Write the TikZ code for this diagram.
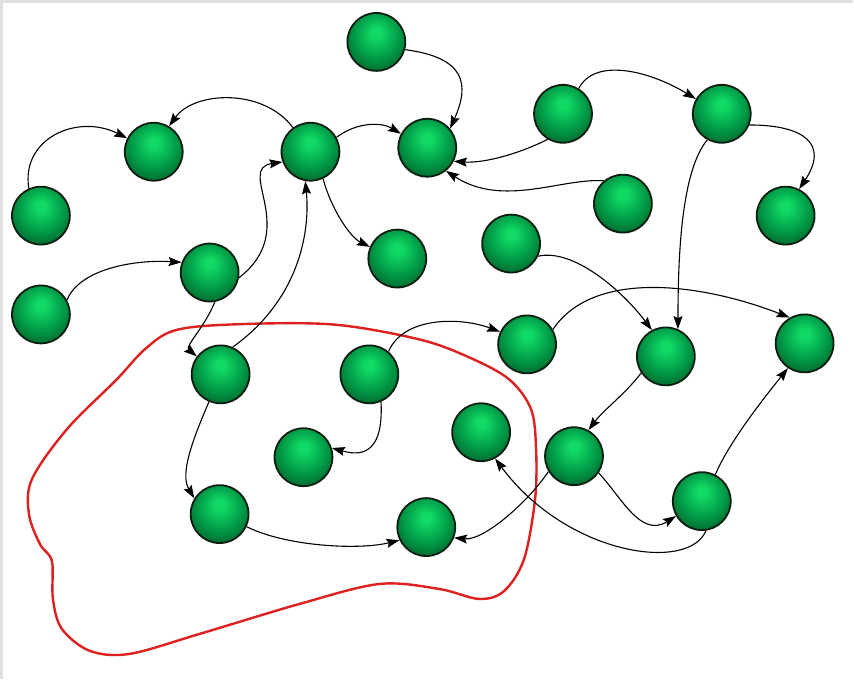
\documentclass[tikz,border=0pt]{standalone}
\usetikzlibrary{arrows.meta}
\definecolor{ballhi}{RGB}{16,218,100}
\definecolor{ballmid}{RGB}{0,152,70}
\definecolor{balldark}{RGB}{0,84,38}
\definecolor{ballrim}{RGB}{10,30,16}
\definecolor{loopred}{RGB}{222,32,32}
\pgfdeclareradialshading{greenball}{\pgfpoint{0bp}{9bp}}{color(0bp)=(ballhi); color(4bp)=(ballhi); color(20bp)=(ballmid); color(34bp)=(balldark); color(50bp)=(balldark)}
\tikzstyle{gball} = [circle, minimum size=58pt, inner sep=0pt, shading=greenball, draw=ballrim, line width=1.8pt]
\tikzstyle{link}  = [-{Stealth[length=13pt,width=9pt,inset=2pt]}, line width=1.1pt, black]
\tikzstyle{hull}  = [draw=loopred, line width=2.4pt]

\begin{document}
\begin{tikzpicture}[x=1pt,y=-1pt]
    \fill[white] (0,0) rectangle (854,680);
    \draw[black!12, line width=3pt] (1.5,680) -- (1.5,1.5) -- (854,1.5);
    \useasboundingbox (0,0) rectangle (854,680);
    \draw[hull] plot[smooth cycle, tension=0.55] coordinates {
      (175,331) (233,325) (333,325) (420,340) (470,358) (510,380) (532,410)
      (537,450) (536,500) (525,560) (505,592) (480,600) (440,590) (380,585)
      (300,605) (200,635) (130,655) (90,652) (62,630) (53,600) (52,562)
      (40,545) (29,515) (32,480) (67,430) (117,380) (145,350)};
    \foreach \n/\x/\y in {tp/377/42, b/154/152, c/311/152, d/428/148, g/564/114,
        h/723/114, la/41/216, i/624/204, j/787/216, f/398/259, k/512/244,
        e/210/273, lb/41/315, r/528/345, s/667/357, t/806/344, m/221/375,
        n/370/375, u/482/433, o/304/458, v/575/457, p/220/515, q/427/528, w/703/502}
      \node[gball] (\n) at (\x,\y) {};
    \draw[link] (tp.-15) .. controls +(60,8) and +(20,-45) .. (d.40);
    \draw[link] (la.114) .. controls +(-8,-50) and +(-50,-25) .. (b.153);
    \draw[link] (c.126) .. controls +(-30,-40) and +(25,-35) .. (b.59);
    \draw[link] (c.29) .. controls +(20,-15) and +(-20,-12) .. (d.152);
    \draw[link] (c.-65) .. controls +(8,30) and +(-20,-10) .. (f.157);
    \draw[link] (e.-10) .. controls +(62,-48) and +(-47,7) .. (c.200);
    \draw[link] (m.66) .. controls +(67,-48) and +(5,50) .. (c.-100);
    \draw[link] (e.-80) .. controls +(-10,25) and +(-12,-10) .. (m.143);
    \draw[link] (lb.29) .. controls +(12,-30) and +(-50,-3) .. (e.160);
    \draw[link] (g.239) .. controls +(-30,15) and +(30,2) .. (d.-27);
    \draw[link] (i.130) .. controls +(-42,-3) and +(57,37) .. (d.-51);
    \draw[link] (g.58) .. controls +(15,-30) and +(-50,-30) .. (h.150);
    \draw[link] (h.-22) .. controls +(55,0) and +(30,-45) .. (j.63);
    \draw[link] (h.-119) .. controls +(-25,30) and +(0,-80) .. (s.66);
    \draw[link] (k.-25) .. controls +(35,-8) and +(-30,-40) .. (s.118);
    \draw[link] (r.30) .. controls +(40,-60) and +(-90,-35) .. (t.120);
    \draw[link] (n.50) .. controls +(15,-35) and +(-40,-15) .. (r.155);
    \draw[link] (m.-113) .. controls +(-15,35) and +(-15,-25) .. (p.148);
    \draw[link] (n.-67) .. controls +(3,57) and +(25,7) .. (o.18);
    \draw[link] (p.-25) .. controls +(40,20) and +(-40,10) .. (q.206);
    \draw[link] (s.214) .. controls +(-15,20) and +(15,-20) .. (v.61);
    \draw[link] (v.-34) .. controls +(23,25) and +(-35,22) .. (w.-150);
    \draw[link] (w.63) .. controls +(15,-35) and +(-20,25) .. (t.236);
    \draw[link] (v.-149) .. controls +(-20,30) and +(30,3) .. (q.-21);
    \draw[link] (w.-82) .. controls +(-17,42) and +(72,97) .. (u.-62);
\end{tikzpicture}
\end{document}
